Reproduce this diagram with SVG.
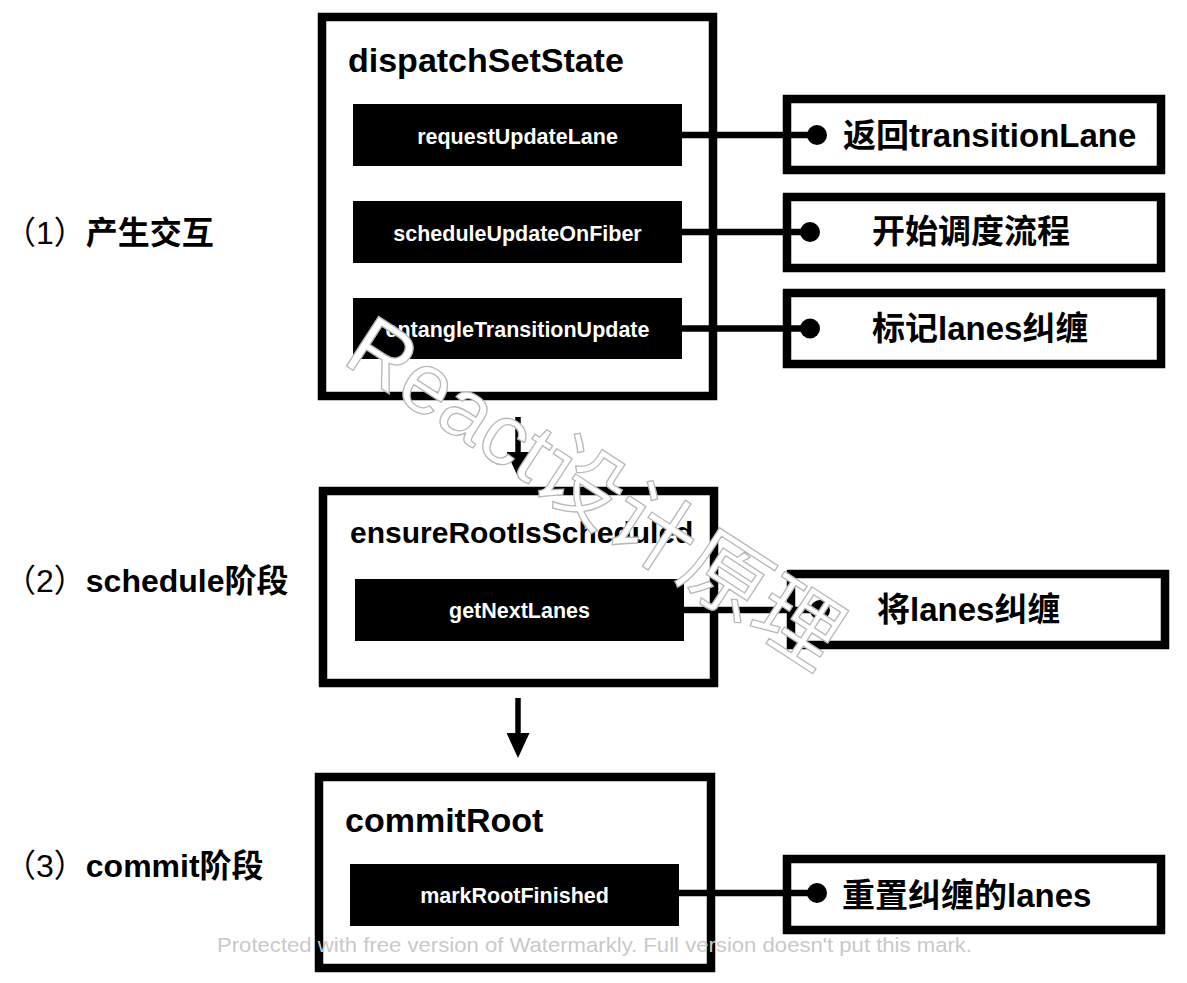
<svg xmlns="http://www.w3.org/2000/svg" width="1187" height="983" viewBox="0 0 1187 983">
<style>
.box{fill:#fff;stroke:#000;stroke-width:8.5}
.bar{fill:#000}
.title{font-family:"Liberation Sans","Noto Sans CJK SC",sans-serif;font-weight:bold;fill:#000}
.bt{font-family:"Liberation Sans","Noto Sans CJK SC",sans-serif;font-weight:bold;font-size:21.5px;fill:#fff;text-anchor:middle}
.rt{font-family:"Liberation Sans","Noto Sans CJK SC",sans-serif;font-weight:bold;font-size:33px;fill:#000}
.lbl{font-family:"Liberation Sans","Noto Sans CJK SC",sans-serif;font-weight:bold;font-size:32px;fill:#000}
.ln{stroke:#000;stroke-width:6.5;fill:none}
.ar{stroke:#000;stroke-width:5.5;fill:none}
.dot{fill:#000}
.wm{font-family:"Liberation Sans","Noto Sans CJK SC",sans-serif;font-size:86px;fill:#fff;stroke:#b8b8b8;stroke-width:1.3}
.wm2{font-family:"Liberation Sans",sans-serif;font-size:21px;fill:#c9c9c9}
</style>
<defs>
<marker id="ah" viewBox="0 0 25 23" refX="8" refY="11.5" markerWidth="25" markerHeight="23" markerUnits="userSpaceOnUse" orient="auto">
<path d="M0,0 L25,11.5 L0,23 Z" fill="#000"/>
</marker>
</defs>
<rect width="1187" height="983" fill="#fff"/>

<g id="label-1"><text class="lbl" x="4" y="244"><tspan font-weight="normal">（1）</tspan>产生交互</text></g>
<g id="label-2"><text class="lbl" x="4" y="592"><tspan font-weight="normal">（2）</tspan>schedule阶段</text></g>
<g id="label-3"><text class="lbl" x="4" y="877"><tspan font-weight="normal">（3）</tspan>commit阶段</text></g>

<g id="dispatchSetState">
<rect class="box" x="322" y="17" width="391" height="379"/>
<text class="title" x="348" y="72" font-size="34">dispatchSetState</text>
</g>
<g id="requestUpdateLane">
<rect class="bar" x="353" y="104" width="329" height="62"/>
<text class="bt" x="517.5" y="144">requestUpdateLane</text>
</g>
<g id="scheduleUpdateOnFiber">
<rect class="bar" x="353" y="201" width="329" height="62"/>
<text class="bt" x="517.5" y="241">scheduleUpdateOnFiber</text>
</g>
<g id="entangleTransitionUpdate">
<rect class="bar" x="353" y="298" width="329" height="61"/>
<text class="bt" x="517.5" y="337">entangleTransitionUpdate</text>
</g>

<g id="ensureRootIsScheduled">
<rect class="box" x="323" y="491" width="391" height="192"/>
<text class="title" x="350" y="543" font-size="30">ensureRootIsScheduled</text>
</g>
<g id="getNextLanes">
<rect class="bar" x="355" y="579" width="329" height="62"/>
<text class="bt" x="519.5" y="618">getNextLanes</text>
</g>

<g id="commitRoot">
<rect class="box" x="319" y="777" width="392" height="191"/>
<text class="title" x="345" y="832" font-size="34">commitRoot</text>
</g>
<g id="markRootFinished">
<rect class="bar" x="350" y="864" width="329" height="62"/>
<text class="bt" x="514.5" y="903">markRootFinished</text>
</g>

<g id="note-return">
<rect class="box" x="787" y="99" width="374" height="71"/>
<text class="rt" x="843" y="147">返回transitionLane</text>
</g>
<g id="note-schedule">
<rect class="box" x="787" y="197" width="374" height="71"/>
<text class="rt" x="872" y="243">开始调度流程</text>
</g>
<g id="note-mark">
<rect class="box" x="787" y="293" width="374" height="71"/>
<text class="rt" x="872" y="340">标记lanes纠缠</text>
</g>
<g id="note-entangle">
<rect class="box" x="791" y="574" width="374" height="71"/>
<text class="rt" x="877" y="621">将lanes纠缠</text>
</g>
<g id="note-reset">
<rect class="box" x="787" y="859" width="374" height="71"/>
<text class="rt" x="842" y="907">重置纠缠的lanes</text>
</g>

<g id="connectors">
<line class="ln" x1="682" y1="135" x2="817" y2="135"/>
<circle class="dot" cx="817" cy="135" r="10"/>
<line class="ln" x1="682" y1="232" x2="810" y2="232"/>
<circle class="dot" cx="810" cy="232" r="10"/>
<line class="ln" x1="682" y1="328.5" x2="810" y2="328.5"/>
<circle class="dot" cx="810" cy="328.5" r="10"/>
<line class="ln" x1="684" y1="610" x2="820" y2="610"/>
<circle class="dot" cx="820" cy="610" r="10"/>
<line class="ln" x1="679" y1="893" x2="817" y2="893"/>
<circle class="dot" cx="817" cy="893" r="10"/>
<line class="ar" x1="518" y1="417" x2="518" y2="460" marker-end="url(#ah)"/>
<line class="ar" x1="518" y1="698" x2="518" y2="741" marker-end="url(#ah)"/>
</g>

<text class="wm" transform="translate(579,517) rotate(33)" text-anchor="middle">React设计原理</text>
<text class="wm2" x="217" y="952" textLength="755" lengthAdjust="spacingAndGlyphs">Protected with free version of Watermarkly. Full version doesn't put this mark.</text>
</svg>
